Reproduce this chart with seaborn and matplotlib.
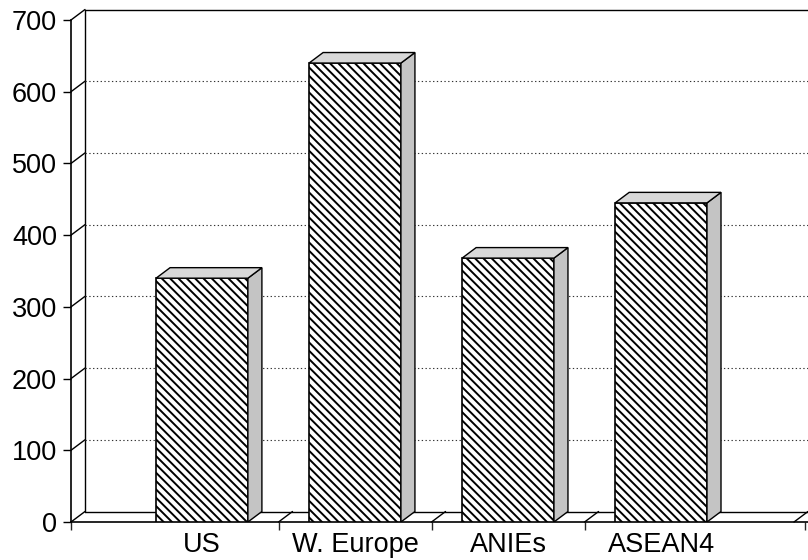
import matplotlib
matplotlib.use("Agg")
import matplotlib.pyplot as plt
import seaborn as sns
import pandas as pd
from matplotlib.patches import Polygon

# Data
regions = ["US", "W. Europe", "ANIEs", "ASEAN4"]
values = [340, 640, 368, 445]
y_ticks = [0, 100, 200, 300, 400, 500, 600, 700]

sns.set_style("white")
plt.rcParams["font.family"] = ["Liberation Sans", "DejaVu Sans"]
plt.rcParams["hatch.linewidth"] = 1.4

W, H = 808, 560
fig = plt.figure(figsize=(W / 100, H / 100), dpi=100)
ax = fig.add_axes([71 / W, 38 / H, 737 / W, 502 / H])

df = pd.DataFrame({"region": regions, "value": values})
sns.barplot(data=df, x="region", y="value", order=regions, width=0.6,
            color="white", saturation=1, edgecolor="black", linewidth=1.2,
            ax=ax, zorder=3)

x_lo, x_hi = -0.856, 3.96
y_lo, y_hi = 0, 700
ax.set_xlim(x_lo, x_hi)
ax.set_ylim(y_lo, y_hi)

# depth offset of the pseudo-3D box (pixels -> data units)
px_x = 737 / (x_hi - x_lo)
px_y = 502 / (y_hi - y_lo)
dx = 14 / px_x
dy = 10.5 / px_y

# back wall, floor and gridlines
line_kw = dict(color="black", lw=1.0, clip_on=False, zorder=1)
ax.plot([x_lo + dx, x_lo + dx], [dy, y_hi + dy], **line_kw)
ax.plot([x_lo + dx, x_hi], [y_hi + dy, y_hi + dy], **line_kw)
ax.plot([x_lo + dx, x_hi], [dy, dy], **line_kw)
for t in y_ticks:
    ax.plot([x_lo, x_lo + dx], [t, t + dy], **line_kw)
    if 0 < t < y_hi:
        ax.plot([x_lo + dx, x_hi], [t + dy, t + dy], color="#333333",
                lw=0.8, ls=(0, (1.2, 2.2)), clip_on=False, zorder=1)
for b in [0.5, 1.5, 2.5, x_hi - dx]:
    ax.plot([b, b + dx], [0, dy], **line_kw)

# hatched front faces plus shaded side and top faces
for p in ax.patches:
    p.set_hatch("\\\\\\\\")
    x0 = p.get_x()
    x1 = x0 + p.get_width()
    v = p.get_height()
    side = Polygon([(x1, 0), (x1 + dx, dy), (x1 + dx, v + dy), (x1, v)],
                   closed=True, facecolor="#c4c4c4", edgecolor="black",
                   lw=1.0, zorder=3)
    top = Polygon([(x0, v), (x0 + dx, v + dy), (x1 + dx, v + dy), (x1, v)],
                  closed=True, facecolor="#d8d8d8", edgecolor="black",
                  lw=1.0, zorder=3)
    ax.add_patch(side)
    ax.add_patch(top)

# axes and ticks
sns.despine(ax=ax, top=True, right=True)
for s in ["left", "bottom"]:
    ax.spines[s].set_color("black")
    ax.spines[s].set_linewidth(1.2)
ax.set_yticks(y_ticks)
ax.tick_params(axis="y", direction="out", length=6, width=1.0, pad=4,
               labelsize=19.5, colors="black", left=True)
ax.tick_params(axis="x", which="major", length=0, pad=7, labelsize=19.5,
               colors="black")
ax.set_xticks([x_lo, 0.5, 1.5, 2.5, x_hi - 0.02], minor=True)
ax.tick_params(axis="x", which="minor", direction="out", length=6,
               width=1.0, bottom=True)
ax.set_xlabel("")
ax.set_ylabel("")

fig.savefig("out.png", dpi=100)
